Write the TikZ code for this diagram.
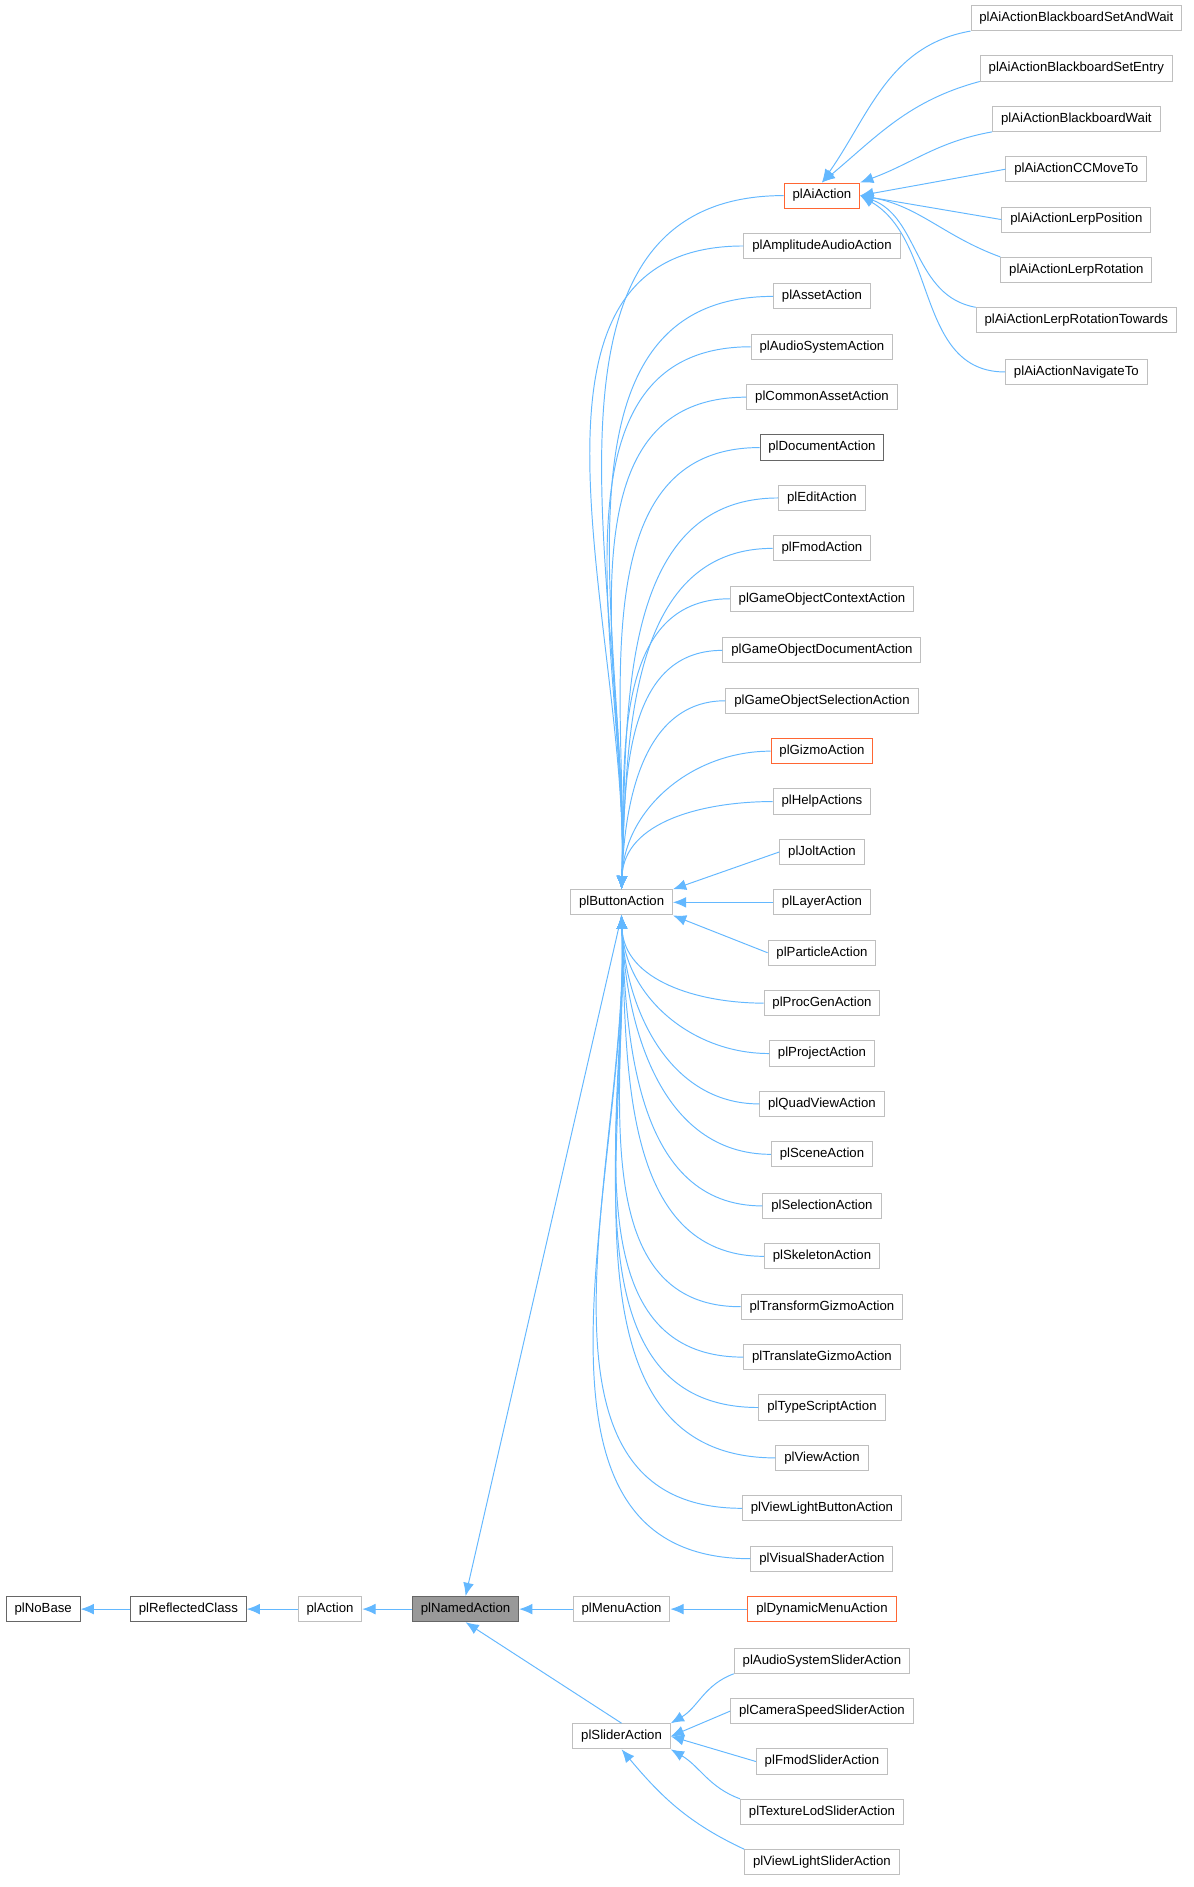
\documentclass[tikz,border=0pt]{standalone}
\usepackage{fontspec}
\setmainfont{Liberation Sans}
\usetikzlibrary{arrows.meta}
\definecolor{edgec}{HTML}{63B8FF}
\definecolor{boxl}{HTML}{BFBFBF}
\definecolor{boxd}{HTML}{666666}
\definecolor{boxo}{HTML}{FF6633}
\begin{document}
\begin{tikzpicture}[x=1pt,y=-1pt,
  box/.style={draw=boxl,line width=0.8pt,fill=white,minimum height=21pt,inner xsep=7pt,font=\fontsize{11}{13}\selectfont,text=black},
  dbox/.style={box,draw=boxd},
  obox/.style={box,draw=boxo},
  edge/.style={draw=edgec,line width=0.8pt,-{Latex[length=11pt,width=9pt]}}]
\useasboundingbox (0,0) rectangle (995,1572.6);
\fill[white] (0,0) rectangle (995,1572.6);
% main chain
\node[dbox] (nobase) at (36,1341) {plNoBase};
\node[dbox] (refl) at (157,1341) {plReflectedClass};
\node[box] (act) at (275,1341) {plAction};
\node[dbox,fill={rgb,255:red,153;green,153;blue,153}] (named) at (388,1341) {plNamedAction};
\node[box] (menu) at (518,1341) {plMenuAction};
\node[obox] (dynmenu) at (685,1341) {plDynamicMenuAction};
\node[box] (button) at (518,752) {plButtonAction};
\node[box] (slider) at (518,1447) {plSliderAction};
\draw[edge] (refl) -- (nobase);
\draw[edge] (act) -- (refl);
\draw[edge] (named) -- (act);
\draw[edge] (menu) -- (named);
\draw[edge] (dynmenu) -- (menu);
\draw[edge] (button.south) -- (named.north);
\draw[edge] (slider.north) -- (named.south);
% slider children
\node[box] (s1) at (685,1384) {plAudioSystemSliderAction};
\node[box] (s2) at (685,1426) {plCameraSpeedSliderAction};
\node[box] (s3) at (685,1468) {plFmodSliderAction};
\node[box] (s4) at (685,1510) {plTextureLodSliderAction};
\node[box] (s5) at (685,1552) {plViewLightSliderAction};
\draw[edge] (s1.south west) to[out=200,in=30] (slider.north east);
\draw[edge] (s2.west) -- (slider.east);
\draw[edge] (s3.west) -- (slider.east);
\draw[edge] (s4.north west) to[out=160,in=-30] (slider.south east);
\draw[edge] (s5.north west) to[out=155,in=-50] (slider.south);
% button children
\foreach \n/\t/\y/\s in {
 b1/plAiAction/163/obox, b2/plAmplitudeAudioAction/205/box, b3/plAssetAction/247/box,
 b4/plAudioSystemAction/289/box, b5/plCommonAssetAction/331/box, b6/plDocumentAction/373/dbox,
 b7/plEditAction/415/box, b8/plFmodAction/457/box, b9/plGameObjectContextAction/499/box,
 b10/plGameObjectDocumentAction/542/box, b11/plGameObjectSelectionAction/584/box,
 b12/plGizmoAction/626/obox, b13/plHelpActions/668/box}{
  \node[\s] (\n) at (685,\y) {\t};
  \draw[edge] (\n.west) to[out=180,in=88] (button.north);
}
\node[box] (b14) at (685,710) {plJoltAction};
\node[box] (b15) at (685,752) {plLayerAction};
\node[box] (b16) at (685,794) {plParticleAction};
\draw[edge] (b14.west) -- (button.north east);
\draw[edge] (b15.west) -- (button.east);
\draw[edge] (b16.west) -- (button.south east);
\foreach \n/\t/\y in {
 b17/plProcGenAction/836, b18/plProjectAction/878, b19/plQuadViewAction/920,
 b20/plSceneAction/962, b21/plSelectionAction/1005, b22/plSkeletonAction/1047,
 b23/plTransformGizmoAction/1089, b24/plTranslateGizmoAction/1131,
 b25/plTypeScriptAction/1173, b26/plViewAction/1215, b27/plViewLightButtonAction/1257,
 b28/plVisualShaderAction/1299}{
  \node[box] (\n) at (685,\y) {\t};
  \draw[edge] (\n.west) to[out=180,in=-88] (button.south);
}
% ai children
\foreach \n/\t/\y in {
 a1/plAiActionBlackboardSetAndWait/15, a2/plAiActionBlackboardSetEntry/57,
 a3/plAiActionBlackboardWait/99, a4/plAiActionCCMoveTo/141}{
  \node[box] (\n) at (897,\y) {\t};
}
\foreach \n/\t/\y in {
 a5/plAiActionLerpPosition/183, a6/plAiActionLerpRotation/225,
 a7/plAiActionLerpRotationTowards/267, a8/plAiActionNavigateTo/310}{
  \node[box] (\n) at (897,\y) {\t};
}
\draw[edge] (a1.south west) to[out=190,in=55] (b1.north);
\draw[edge] (a2.south west) to[out=195,in=40] (b1.north);
\draw[edge] (a3.south west) to[out=190,in=20] (b1.north east);
\draw[edge] (a4.west) -- (b1.east);
\draw[edge] (a5.west) -- (b1.east);
\draw[edge] (a6.north west) to[out=160,in=-10] (b1.east);
\draw[edge] (a7.north west) to[out=170,in=-20] (b1.east);
\draw[edge] (a8.west) to[out=180,in=-30] (b1.east);
\end{tikzpicture}
\end{document}
